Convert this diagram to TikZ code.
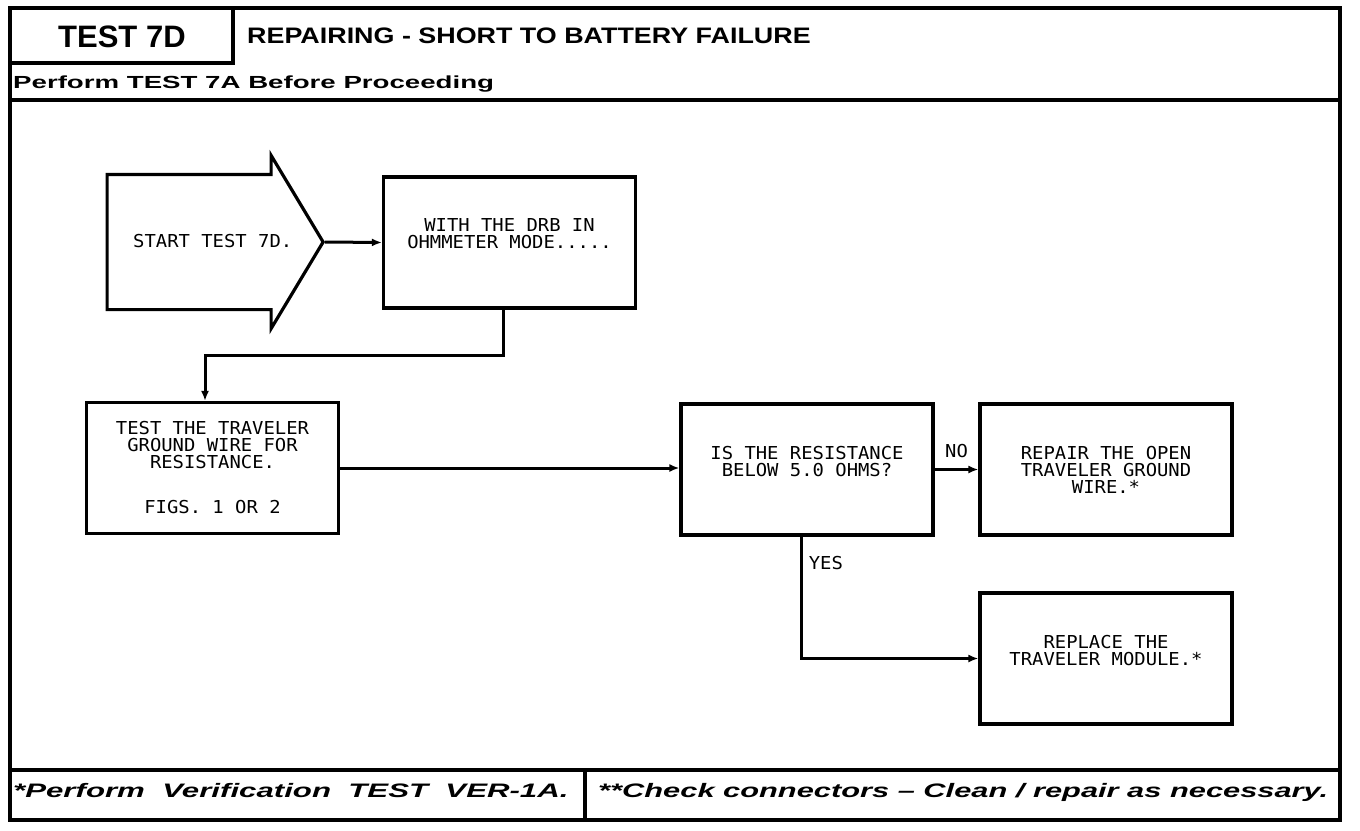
\documentclass[tikz,border=0pt]{standalone}
\usepackage{fontspec}
\usetikzlibrary{arrows.meta,shapes.arrows}
\newfontface\hdfnt{Liberation Sans Bold}
\newfontface\titlefnt[FakeStretch=1.2]{Liberation Sans Bold}
\newfontface\subfnt[FakeStretch=1.58]{Liberation Sans Bold}
\newfontface\footfnt[FakeStretch=1.58]{Liberation Sans Bold Italic}
\newfontface\notefnt[FakeStretch=1.6,WordSpace=2]{Liberation Sans Bold Italic}
\newfontface\boxfnt[FakeStretch=1.06]{DejaVu Sans Mono}
\newcommand{\plotter}{\boxfnt\fontsize{17.8}{17}\selectfont}

\begin{document}
\begin{tikzpicture}[x=1pt,y=-1pt,
	frame/.style={line width=3.6pt},
	heavy/.style={draw,line width=3.2pt},
	stepbox/.style={heavy,rectangle,minimum width=252pt,minimum height=131pt,inner sep=0pt,align=center,font=\plotter},
	conn/.style={line width=3pt,-{Latex[length=10pt,width=8pt]}},
	tag/.style={font=\plotter},
	head/.style={inner sep=0pt,anchor=base west}]
	\fill[white] (0,0) rectangle (1360,830);
	\useasboundingbox (0,0) rectangle (1360,830);

	\draw[frame] (10,8) rectangle (1340,820);
	\draw[frame] (10,63) -- (233,63) -- (233,8);
	\draw[frame] (10,100) -- (1340,100);
	\draw[frame] (10,770) -- (1340,770);
	\draw[frame] (585,770) -- (585,820);

	\node[head,font=\hdfnt\fontsize{31}{31}\selectfont] (num) at (58,47) {TEST 7D};
	\node[head,font=\titlefnt\fontsize{22.4}{24}\selectfont] (title) at (247,43) {REPAIRING - SHORT TO BATTERY FAILURE};
	\node[head,font=\subfnt\fontsize{17.5}{20}\selectfont] (before) at (13,88) {Perform TEST 7A Before Proceeding};
	\node[head,font=\notefnt\fontsize{19.5}{22}\selectfont] (verify) at (13,797) {*Perform Verification TEST VER-1A.};
	\node[head,font=\footfnt\fontsize{19.5}{22}\selectfont] (check) at (598,797) {**Check connectors – Clean / repair as necessary.};

	\node[heavy,single arrow,single arrow head extend=19pt,single arrow tip angle=118,minimum width=170pt,minimum height=216pt,inner ysep=66pt,inner xsep=0pt,anchor=tip] (start) at (325,242) {};
	\node[tag,inner sep=0pt,anchor=west] (starttext) at (133,241) {START TEST 7D.};
	\node[stepbox] (ohm) at (509.5,242.5) {WITH THE DRB IN\\OHMMETER MODE.....\\~};
	\node[stepbox] (test) at (212.5,468) {TEST THE TRAVELER\\GROUND WIRE FOR\\RESISTANCE.\\[28pt]FIGS. 1 OR 2};
	\node[stepbox] (ask) at (807,469.5) {IS THE RESISTANCE\\BELOW 5.0 OHMS?\\~};
	\node[stepbox] (repair) at (1106,469.5) {REPAIR THE OPEN\\TRAVELER GROUND\\WIRE.*};
	\node[stepbox] (replace) at (1106,658.5) {REPLACE THE\\TRAVELER MODULE.*\\~};

	\coordinate (bend) at (205,355);
	\draw[conn] (start.tip) -- (ohm.west);
	\draw[conn] ([xshift=-6pt]ohm.south) |- (bend) -- (bend |- test.north);
	\draw[conn] (test.east) -- (test.east -| ask.west);
	\draw[conn] (ask.east) -- node[tag,above=7pt] (no) {NO} (repair.west);
	\draw[conn] ([xshift=-6pt]ask.south) |- node[tag,pos=0.11,right=3pt] (yes) {YES} (replace.west);
\end{tikzpicture}
\end{document}
